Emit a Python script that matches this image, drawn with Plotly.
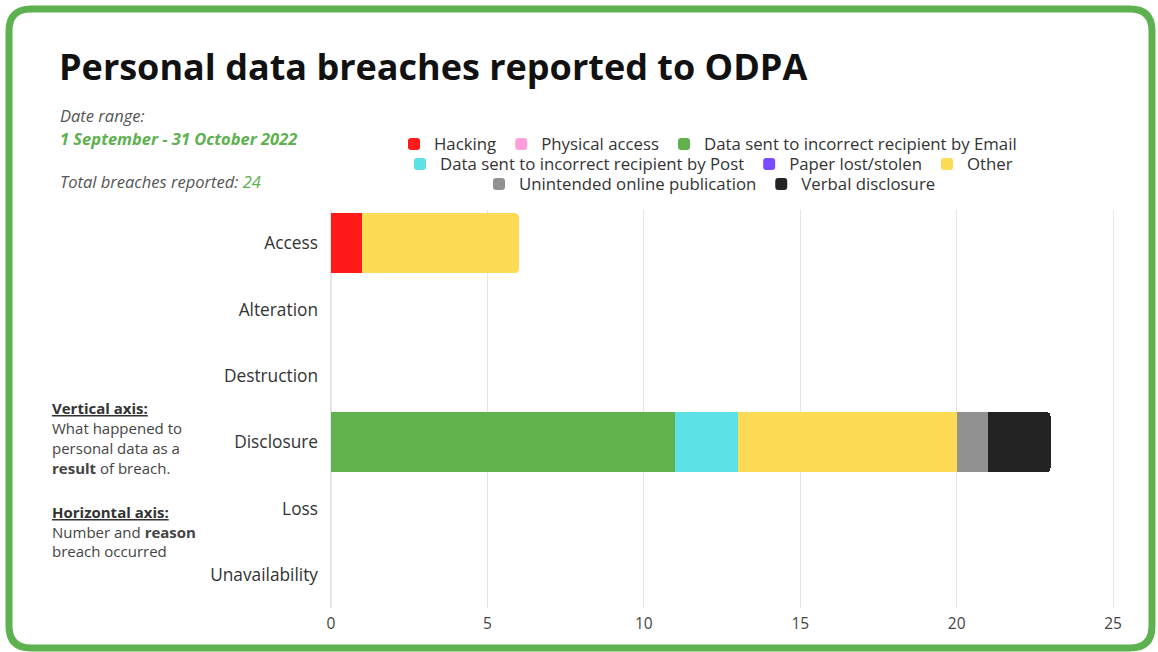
import plotly.graph_objects as go

categories = ["Access", "Alteration", "Destruction", "Disclosure", "Loss", "Unavailability"]

series_names = [
    "Hacking", "Physical access", "Data sent to incorrect recipient by Email",
    "Data sent to incorrect recipient by Post", "Paper lost/stolen", "Other",
    "Unintended online publication", "Verbal disclosure",
]
hacking = [1, 0, 0, 0, 0, 0]
physical_access = [0, 0, 0, 0, 0, 0]
email = [0, 0, 0, 11, 0, 0]
post = [0, 0, 0, 2, 0, 0]
paper_lost = [0, 0, 0, 0, 0, 0]
other = [5, 0, 0, 7, 0, 0]
unintended = [0, 0, 0, 1, 0, 0]
verbal = [0, 0, 0, 2, 0, 0]
series_values = [hacking, physical_access, email, post, paper_lost, other, unintended, verbal]
colors = ["#FF1919", "#FF9EDB", "#62B24E", "#5CE1E6", "#7A4CFF", "#FDDB55", "#919191", "#232323"]
legend_of = ["legend", "legend", "legend", "legend2", "legend2", "legend2", "legend3", "legend3"]
x_ticks = [0, 5, 10, 15, 20, 25]

W, H = 1158, 652
ML, MR, MT, MB = 331, 43, 210, 44
PW, PH = W - ML - MR, H - MT - MB

def px(x):
    return (x - ML) / PW

def py(y):
    return (H - MB - y) / PH

FONT = "Open Sans"

fig = go.Figure()
for name, vals, col, lg in zip(series_names, series_values, colors, legend_of):
    fig.add_trace(go.Bar(
        y=categories, x=vals, name=name, orientation="h",
        marker=dict(color=col, line=dict(width=0)), legend=lg,
    ))

legend_common = dict(orientation="h", xanchor="center", yanchor="middle",
                     traceorder="normal",
                     font=dict(family=FONT, size=16.8, color="#333333"),
                     bgcolor="rgba(0,0,0,0)", itemwidth=30, tracegroupgap=0)
fig.update_layout(
    width=W, height=H,
    margin=dict(l=ML, r=MR, t=MT, b=MB),
    barmode="stack", bargap=0.1, barcornerradius=4,
    paper_bgcolor="white", plot_bgcolor="white",
    font=dict(family=FONT, color="#333333"),
    legend=dict(x=px(708), y=py(144), **legend_common),
    legend2=dict(x=px(709), y=py(164), **legend_common),
    legend3=dict(x=px(710), y=py(184), **legend_common),
    xaxis=dict(range=[0, 25.06], tickvals=x_ticks, showgrid=True, gridcolor="#E6E6E6",
               zeroline=True, zerolinecolor="#E6E6E6", showline=False,
               tickfont=dict(family=FONT, size=15.5, color="#444444"), ticks="",
               ticklabelstandoff=4),
    yaxis=dict(autorange="reversed", showgrid=False, showline=False, ticks="",
               ticklabelstandoff=12,
               tickfont=dict(family=FONT, size=17.3, color="#333333")),
)

# rounded green frame (paper coords)
x0, x1, y0, y1, r = 9, 1152, 9, 648, 22
def P(x, y):
    return f"{px(x):.5f},{py(y):.5f}"
path = (f"M {P(x0 + r, y0)} L {P(x1 - r, y0)} Q {P(x1, y0)} {P(x1, y0 + r)} "
        f"L {P(x1, y1 - r)} Q {P(x1, y1)} {P(x1 - r, y1)} "
        f"L {P(x0 + r, y1)} Q {P(x0, y1)} {P(x0, y1 - r)} "
        f"L {P(x0, y0 + r)} Q {P(x0, y0)} {P(x0 + r, y0)} Z")
fig.add_shape(type="path", path=path, xref="paper", yref="paper",
              line=dict(color="#5DB14E", width=7), layer="below")

def note(x, y, text, size=14, color="#444444"):
    fig.add_annotation(x=px(x), y=py(y), xref="paper", yref="paper", text=text,
                       showarrow=False, xanchor="left", yanchor="middle", align="left",
                       font=dict(family=FONT, size=size, color=color))

note(57, 67, "<b>Personal data breaches reported to ODPA</b>", size=36, color="#111111")
note(58, 116, "<i>Date range:</i>", size=16.5, color="#555555")
note(58, 138, "<b><i>1 September - 31 October 2022</i></b>", size=16.5, color="#5DB14E")
note(58, 182, "<i>Total breaches reported: <span style='color:#5DB14E'>24</span></i>", size=16.5, color="#555555")

note(50, 408, "<b><u>Vertical axis:</u></b>", size=15, color="#333333")
note(50, 428, "What happened to", size=15)
note(50, 448, "personal data as a", size=15)
note(50, 468, "<b>result</b> of breach.", size=15)
note(50, 512, "<b><u>Horizontal axis:</u></b>", size=15, color="#333333")
note(50, 532, "Number and <b>reason</b>", size=15)
note(50, 551, "breach occurred", size=15)

fig.write_html("out.html", config={"displayModeBar": False},
               post_script="document.body.style.margin='0';")
